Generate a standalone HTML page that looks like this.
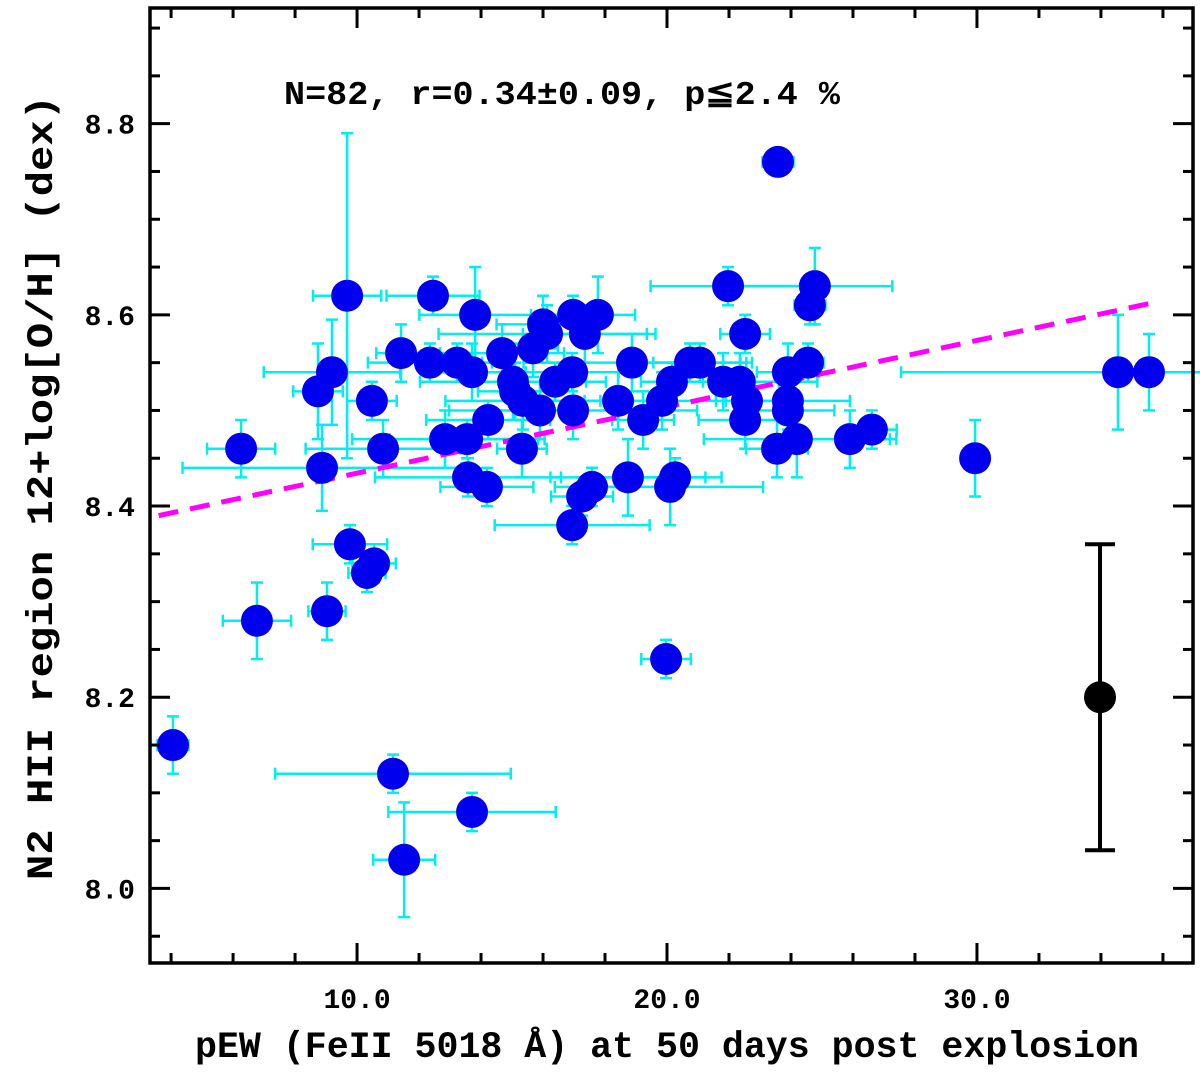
<!DOCTYPE html>
<html><head><meta charset="utf-8"><style>
html,body{margin:0;padding:0;background:#fff;}
svg text{font-family:"Liberation Mono",monospace;font-weight:bold;fill:#000;}
</style></head><body>
<svg id="chart" width="1200" height="1070" viewBox="0 0 1200 1070" xmlns="http://www.w3.org/2000/svg">
<g id="errs"></g>
<g id="fit"></g>
<g id="dots"></g>
<g id="ref"></g>
<g id="axes"></g>
<text x="284" y="104" font-size="33" textLength="556" lengthAdjust="spacingAndGlyphs">N=82, r=0.34±0.09, p≦2.4 %</text>
<text x="195" y="1057" font-size="37" textLength="944" lengthAdjust="spacingAndGlyphs">pEW (FeII 5018 Å) at 50 days post explosion</text>
<text x="0" y="0" font-size="37" textLength="785" lengthAdjust="spacingAndGlyphs" transform="translate(52,880) rotate(-90)">N2 HII region 12+log[O/H] (dex)</text>
</svg>
<script>
const xVals=[4.06,6.26,6.77,8.87,8.74,9.19,9.68,10.48,10.84,11.42,12.45,13.81,12.35,13.23,13.71,14.68,15.03,15.10,15.35,15.90,16.0,16.13,15.68,16.39,16.94,16.97,16.97,17.35,17.77,14.23,13.55,12.84,15.32,13.58,14.19,16.94,17.26,17.58,18.74,20.26,20.10,18.42,18.87,19.23,19.84,20.16,20.74,21.06,21.97,21.81,22.35,22.58,22.52,22.52,23.90,24.55,23.90,23.90,24.19,23.55,24.77,24.61,25.90,26.61,23.58,19.97,11.16,11.52,13.71,9.77,10.55,10.32,9.03,29.94,34.55,35.55];
const yVals=[8.15,8.46,8.28,8.44,8.52,8.54,8.62,8.51,8.46,8.56,8.62,8.60,8.55,8.55,8.54,8.56,8.53,8.52,8.51,8.50,8.59,8.58,8.565,8.53,8.54,8.50,8.60,8.58,8.60,8.49,8.47,8.47,8.46,8.43,8.42,8.38,8.41,8.42,8.43,8.43,8.42,8.51,8.55,8.49,8.51,8.53,8.55,8.55,8.63,8.53,8.53,8.51,8.49,8.58,8.54,8.55,8.51,8.50,8.47,8.46,8.63,8.61,8.47,8.48,8.76,8.24,8.12,8.03,8.08,8.36,8.34,8.33,8.29,8.45,8.54,8.54];
const xErr=[0.5,1.1,1.1,4.5,0.8,2.2,1.1,0.8,2.5,0.8,1.5,1.8,2.0,0.8,1.5,2.0,3.0,1.2,2.5,0.8,1.5,3.5,0.8,1.0,1.5,4.0,1.0,2.0,1.2,2.0,2.5,3.0,0.8,3.0,1.5,2.5,1.0,1.2,2.5,1.5,3.0,1.5,3.5,1.0,2.5,1.0,2.0,1.5,2.5,1.8,2.5,1.0,1.5,0.8,1.0,0.5,2.0,1.5,3.0,1.0,2.5,0.5,1.5,0.8,0.5,0.8,3.8,1.0,2.7,1.2,0.7,0.6,0.6,0.3,7.0,0.3];
const yErr=[0.03,0.03,0.04,0.045,0.05,0.055,0.17,0.02,0.03,0.03,0.02,0.05,0.02,0.02,0.03,0.03,0.04,0.03,0.03,0.03,0.03,0.03,0.03,0.02,0.02,0.03,0.02,0.03,0.04,0.02,0.02,0.03,0.03,0.02,0.02,0.02,0.02,0.02,0.04,0.02,0.04,0.03,0.03,0.03,0.03,0.02,0.02,0.02,0.02,0.03,0.03,0.03,0.03,0.02,0.03,0.02,0.03,0.03,0.04,0.03,0.04,0.02,0.03,0.02,0.01,0.02,0.02,0.06,0.02,0.02,0.02,0.02,0.03,0.04,0.06,0.04];
const xTicks=[10,20,30];
const xTickLabels=["10.0","20.0","30.0"];
const yTicks=[8.0,8.2,8.4,8.6,8.8];
const yTickLabels=["8.0","8.2","8.4","8.6","8.8"];
const fitCoef=[8.365,0.00694];
const fitRange=[3.6,35.6];
const refPoint=[33.97,8.2,0.16];

const X0=150,X1=1193,Y0=8,Y1=963;
const xMin=3.32,xMax=36.97,yMin=7.922,yMax=8.921;
function sx(v){return X0+(v-xMin)/(xMax-xMin)*(X1-X0);}
function sy(v){return Y1-(v-yMin)/(yMax-yMin)*(Y1-Y0);}
const NS="http://www.w3.org/2000/svg";
function mk(tag,attrs,parent){const e=document.createElementNS(NS,tag);for(const k in attrs)e.setAttribute(k,attrs[k]);parent.appendChild(e);return e;}

const errs=document.getElementById('errs'),dots=document.getElementById('dots');
for(let i=0;i<xVals.length;i++){
  const cx=sx(xVals[i]),cy=sy(yVals[i]);
  const g=mk('g',{stroke:'#00eeee','stroke-width':2.5},errs);
  
  
  const xl=sx(xVals[i]-xErr[i]),xr=sx(xVals[i]+xErr[i]),yt=sy(yVals[i]+yErr[i]),yb=sy(yVals[i]-yErr[i]);
  mk('line',{x1:xl,y1:cy,x2:xr,y2:cy},g);
  mk('line',{x1:xl,y1:cy-6,x2:xl,y2:cy+6},g);
  mk('line',{x1:xr,y1:cy-6,x2:xr,y2:cy+6},g);
  mk('line',{x1:cx,y1:yt,x2:cx,y2:yb},g);
  mk('line',{x1:cx-6,y1:yt,x2:cx+6,y2:yt},g);
  mk('line',{x1:cx-6,y1:yb,x2:cx+6,y2:yb},g);
  const c=mk('circle',{cx:cx,cy:cy,r:16,fill:'#0000ee'},dots);
  
  
}
const fit=document.getElementById('fit');
const fl=mk('line',{x1:sx(fitRange[0]),y1:sy(fitCoef[0]+fitCoef[1]*fitRange[0]),x2:sx(fitRange[1]),y2:sy(fitCoef[0]+fitCoef[1]*fitRange[1]),stroke:'#ff00ff','stroke-width':5,'stroke-dasharray':'20 12'},fit);



const ref=document.getElementById('ref');
const rx=sx(refPoint[0]),ry=sy(refPoint[1]),rt=sy(refPoint[1]+refPoint[2]),rb=sy(refPoint[1]-refPoint[2]);
const rg=mk('g',{stroke:'#000','stroke-width':4},ref);
mk('line',{x1:rx,y1:rt,x2:rx,y2:rb},rg);
mk('line',{x1:rx-15,y1:rt,x2:rx+15,y2:rt},rg);
mk('line',{x1:rx-15,y1:rb,x2:rx+15,y2:rb},rg);
mk('circle',{cx:rx,cy:ry,r:16,fill:'#000'},ref);

const axes=document.getElementById('axes');
const fr=mk('rect',{x:X0,y:Y0,width:X1-X0,height:Y1-Y0,fill:'none',stroke:'#000','stroke-width':3.5},axes);


const tg=mk('g',{stroke:'#000','stroke-width':3},axes);
for(let v=4;v<=36.01;v+=2){
  const major=Math.abs(v%10)<0.01;const L=major?20:10;const x=sx(v);
  mk('line',{x1:x,y1:Y1,x2:x,y2:Y1-L},tg);
  mk('line',{x1:x,y1:Y0,x2:x,y2:Y0+L},tg);
}
for(let k=0;k<=19;k++){
  const v=7.95+k*0.05;if(v>yMax)break;
  const major=Math.abs((v*10)%2)<0.01||Math.abs((v*10)%2-2)<0.01;const L=major?20:10;const y=sy(v);
  mk('line',{x1:X0,y1:y,x2:X0+L,y2:y},tg);
  mk('line',{x1:X1,y1:y,x2:X1-L,y2:y},tg);
}
xTicks.forEach((v,i)=>{
  const t=mk('text',{x:sx(v),y:Y1+45,'font-size':28,'text-anchor':'middle'},axes);
  t.textContent=xTickLabels[i];
  
  
});
yTicks.forEach((v,i)=>{
  const t=mk('text',{x:X0-15,y:sy(v)+10,'font-size':28,'text-anchor':'end'},axes);
  t.textContent=yTickLabels[i];
  
  
});
</script>
</body></html>
